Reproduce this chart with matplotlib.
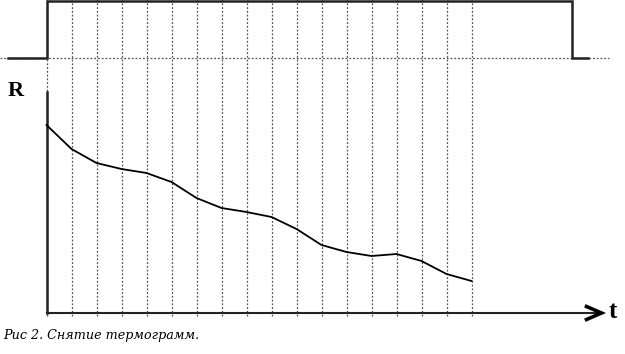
import matplotlib
matplotlib.use('Agg')
import matplotlib.pyplot as plt

# sample number (one per dotted gridline) and measured resistance, arbitrary units
t_samples = list(range(18))
r_values = [188, 164, 150, 144, 140, 131, 115, 105, 101, 96, 84, 68, 61, 57, 59, 52, 39, 32]

# heating pulse (upper trace): time of switch-on / switch-off and levels
pulse_t = [-1.54, 0, 0, 21, 21, 21.66]
pulse_level = [255, 255, 312, 312, 255, 255]

caption = 'Рис 2. Снятие термограмм.'

fig = plt.figure(figsize=(6.25, 3.54), dpi=100)
ax = fig.add_axes([0, 0, 1, 1])
ax.set_xlim(-1.86, 23.14)
ax.set_ylim(-41, 313)
ax.axis('off')

grid_kw = dict(color='#555555', linewidth=0.9, linestyle=(0, (1.5, 1.5)))

# vertical dotted gridlines at each sample
for t in t_samples:
    ax.plot([t, t], [-3, 313], **grid_kw)

# horizontal dotted baseline of the pulse
ax.plot([-1.86, 22.5], [255, 255], **grid_kw)

# pulse
ax.plot(pulse_t, pulse_level, color='#222222', linewidth=1.8, solid_joinstyle='miter')

# axes with arrow
ax.plot([0, 0], [0, 221], color='#222222', linewidth=1.8)
ax.plot([0, 22.1], [0, 0], color='#222222', linewidth=1.5)
ax.plot([21.6, 22.2, 21.6], [6.5, 0, -6.5], color='black', linewidth=2.6,
        solid_joinstyle='miter')

# thermogram
ax.plot(t_samples, r_values, color='black', linewidth=1.3)

ax.text(-1.86 + 16 / 25, 222, 'R', fontsize=16, fontweight='bold',
        family='Liberation Serif', ha='center', va='center')
ax.text(22.65, 1, 't', fontsize=18, fontweight='bold',
        family='Liberation Serif', ha='center', va='center')
ax.text(-1.74, -22, caption, fontsize=9.2, style='italic',
        family='DejaVu Serif', ha='left', va='center')

fig.savefig('out.png', dpi=100)
